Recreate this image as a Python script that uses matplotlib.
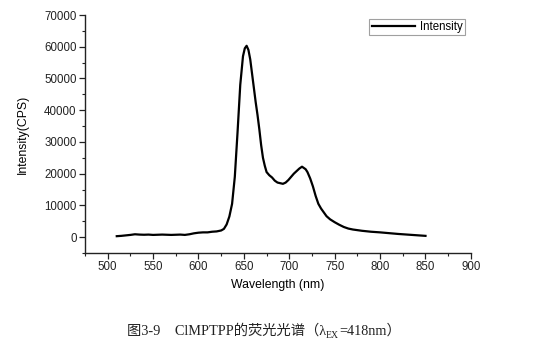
import matplotlib
matplotlib.use("Agg")
import matplotlib.pyplot as plt
from matplotlib.ticker import MultipleLocator

# Fluorescence emission spectrum (wavelength in nm, intensity in CPS)
wavelength = [510, 515, 520, 525, 530, 535, 540, 545, 550, 555, 560, 565, 570,
              575, 580, 585, 590, 595, 600, 605, 610, 615, 620, 625, 628, 631,
              634, 637, 640, 643, 646, 649, 651, 653, 655, 657, 659, 661, 663,
              665, 667, 669, 671, 673, 675, 678, 681, 684, 687, 690, 693, 696,
              699, 702, 705, 708, 711, 714, 716, 718, 720, 723, 726, 729, 732,
              735, 738, 741, 745, 750, 755, 760, 765, 770, 775, 780, 790, 800,
              810, 820, 830, 840, 850]
intensity = [300, 400, 550, 700, 900, 800, 750, 800, 700, 750, 800, 750, 700,
             750, 800, 700, 900, 1200, 1400, 1500, 1500, 1700, 1800, 2100, 2600,
             4000, 6500, 10500, 19000, 33000, 48000, 57000, 59500, 60300, 59000,
             56000, 51500, 47000, 42500, 38500, 34000, 29000, 25000, 22500, 20500,
             19500, 18800, 17800, 17200, 17000, 16800, 17200, 18000, 19000, 20000,
             20800, 21600, 22200, 21800, 21400, 20500, 18500, 16000, 13000, 10500,
             9000, 7800, 6600, 5600, 4700, 3900, 3200, 2700, 2400, 2200, 2000,
             1700, 1500, 1250, 1000, 800, 600, 400]

x_ticks = [500, 550, 600, 650, 700, 750, 800, 850, 900]
y_ticks = [0, 10000, 20000, 30000, 40000, 50000, 60000, 70000]

plt.rcParams['font.family'] = ['Liberation Sans', 'DejaVu Sans']

fig = plt.figure(figsize=(5.54, 3.46), dpi=100)
ax = fig.add_axes([0.1534, 0.2688, 0.6966, 0.6878])

ax.plot(wavelength, intensity, color='black', lw=1.6, label='Intensity')

ax.set_xlim(475, 900)
ax.set_ylim(-5000, 70000)
ax.set_xticks(x_ticks)
ax.set_yticks(y_ticks)
ax.xaxis.set_minor_locator(MultipleLocator(25))
ax.yaxis.set_minor_locator(MultipleLocator(5000))

for side in ('top', 'right'):
    ax.spines[side].set_visible(False)
for side in ('left', 'bottom'):
    ax.spines[side].set_linewidth(1.0)
    ax.spines[side].set_color('#222222')

ax.tick_params(which='major', direction='out', length=4, width=0.9,
               labelsize=8.3, colors='#222222', pad=2)
ax.tick_params(which='minor', direction='out', length=2, width=0.8,
               colors='#222222')

ax.set_xlabel('Wavelength (nm)', fontsize=8.8, labelpad=4)
ax.set_ylabel('Intensity(CPS)', fontsize=8.8, labelpad=11)

leg = ax.legend(loc='upper right', bbox_to_anchor=(0.985, 0.985),
                fontsize=8.3, frameon=True, fancybox=False,
                handlelength=3.8, handletextpad=0.4, borderpad=0.2,
                borderaxespad=0.0)
leg.get_frame().set_edgecolor('#888888')
leg.get_frame().set_linewidth(0.8)

# Figure caption with a subscripted excitation label
cap_font = ['Liberation Serif', 'Noto Sans CJK SC']
t1 = fig.text(0.229, 0.032, '图3-9    ClMPTPP的荧光光谱（λ', fontsize=10.3,
              family=cap_font, ha='left', va='baseline', color='#222222')
t2 = ax.annotate('EX', xy=(1, 0), xycoords=t1, xytext=(0, -1.5),
                 textcoords='offset points', fontsize=7, family=cap_font,
                 ha='left', va='bottom', color='#222222', annotation_clip=False)
t3 = ax.annotate('=418nm）', xy=(1, 0), xycoords=t2, xytext=(0, 1.5),
                 textcoords='offset points', fontsize=10.3, family=cap_font,
                 ha='left', va='bottom', color='#222222', annotation_clip=False)

fig.savefig('out.png', dpi=100)
